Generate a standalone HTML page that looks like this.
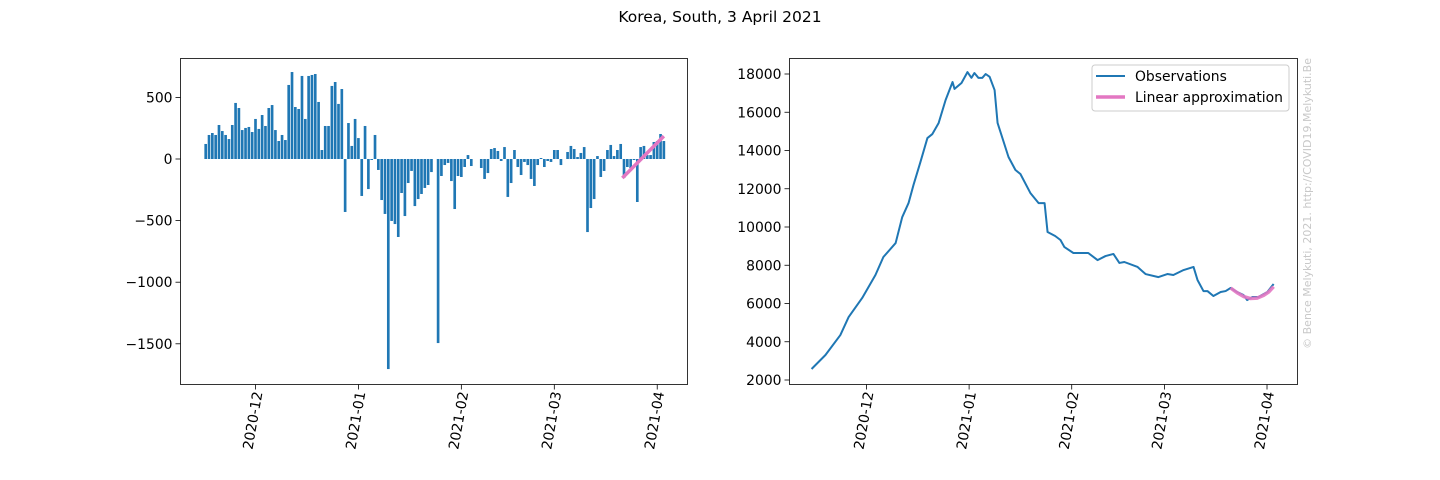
<!DOCTYPE html>
<html><head><meta charset="utf-8"><style>
html,body{margin:0;padding:0;background:#fff;}
svg{display:block;font-family:"DejaVu Sans","Liberation Sans",sans-serif;}
</style></head><body>
<svg id="fig" width="1440" height="480" viewBox="0 0 1440 480" xmlns="http://www.w3.org/2000/svg">
<text x="720" y="22" text-anchor="middle" font-size="15.5" fill="#000">Korea, South, 3 April 2021</text>
<text transform="translate(1311,58) rotate(-90)" text-anchor="end" font-size="11" fill="#c8c8c8">© Bence Melykuti, 2021. http://COVID19.Melykuti.Be</text>
<g id="left"></g>
<g id="right"></g>
</svg>
<script>
// Daily change bars, first bar at day -15 (2020-11-16), days counted from 2020-12-01
const barStartDay = -15;
const barValues = [122,195,211,195,276,227,195,162,276,455,414,235,252,260,219,325,244,357,268,414,
438,235,146,195,154,601,706,422,406,674,325,674,682,690,463,73,268,268,593,625,
447,568,-430,292,106,325,170,-300,268,-244,-8,195,-89,-333,-446,-1705,-503,-528,-633,-276,
-463,-195,-97,-382,-325,-284,-235,-211,-106,0,
-1494,-138,-49,-32,-179,-406,-138,-146,-65,32,-57,0,0,-73,-162,-114,81,89,65,-16,97,-308,-195,73,-65,-130,-24,-49,-162,-219,
-49,8,-65,-16,-24,73,73,-49,0,57,106,81,16,49,97,-593,-398,-325,24,-146,-97,73,114,24,73,122,-154,-65,-73,-8,
-349,97,106,32,32,138,146,203,146];
const fitLeftDays = [110.5,123];
const fitLeftValues = [-154,186];
// Observations (day offsets from 2020-12-01, values)
const obsDays = [-16.6,-12.4,-7.9,-5.4,-1.3,2.7,5.1,8.8,10.8,12.7,14.2,16.3,18.4,19.9,21.8,23.9,26,26.6,28.7,30.5,31.7,32.6,33.8,35,36,37.2,38.7,39.6,42.9,45,46.5,49.5,52,53.8,54.7,57,58.6,59.8,62.5,67,69.8,72.2,74.6,76.4,77.9,81.9,84.3,88.2,90.9,92.7,95.8,98.8,100,101.8,103,104.8,107,108.5,110,112,113.9,115,116.6,118.4,121.1,123];
const obsValues = [2575,3307,4350,5290,6290,7490,8430,9160,10520,11250,12200,13400,14650,14860,15440,16640,17580,17220,17530,18100,17800,18050,17800,17800,18000,17850,17160,15440,13660,12980,12770,11780,11250,11250,9740,9530,9320,8950,8640,8640,8270,8480,8590,8120,8170,7910,7540,7380,7540,7490,7750,7910,7230,6650,6650,6390,6600,6650,6810,6600,6440,6180,6340,6340,6600,7020];
const fitRightDays = [110,112,114,116,118,120,121.5,123];
const fitRightValues = [6810,6560,6360,6260,6280,6430,6600,6880];
const xTickLabels = ["2020-12","2021-01","2021-02","2021-03","2021-04"];
const xTickDays = [0,31,62,90,121];
const leftYTicks = [500,0,-500,-1000,-1500];
const rightYTicks = [2000,4000,6000,8000,10000,12000,14000,16000,18000];

const NS="http://www.w3.org/2000/svg";
function mk(parent,tag,attrs){const e=document.createElementNS(NS,tag);for(const k in attrs)e.setAttribute(k,attrs[k]);parent.appendChild(e);return e;}
function fmt(v){return v<0?"\u2212"+(-v):""+v;}

function axesFrame(g,box,xs,ys,yt,prefix){
  for(let i=0;i<xTickDays.length;i++){
    const x=xs(xTickDays[i]);
    const t=mk(g,'line',{x1:x,x2:x,y1:box.b,y2:box.b+5,stroke:'#000','stroke-width':0.8});
    
    
    const lb=mk(g,'text',{transform:`translate(${x+7},${box.b+8}) rotate(-80)`,'text-anchor':'end','font-size':14,fill:'#000'});
    lb.textContent=xTickLabels[i];
    
    
  }
  for(const v of yt){
    const y=ys(v);
    const t=mk(g,'line',{x1:box.l-5,x2:box.l,y1:y,y2:y,stroke:'#000','stroke-width':0.8});
    
    
    const lb=mk(g,'text',{x:box.l-8,y:y+5,'text-anchor':'end','font-size':13.9,fill:'#000'});
    lb.textContent=fmt(v);
    
    
  }
  const r=mk(g,'rect',{x:box.l,y:box.t,width:box.r-box.l,height:box.b-box.t,fill:'none',stroke:'#000','stroke-width':0.8});
  
  
}

// Left chart
(function(){
  const g=document.getElementById('left');
  const box={l:180.5,r:687.5,t:58.5,b:384.5};
  const pxDay=3.32, x0=255.5;
  const xs=d=>x0+d*pxDay;
  const ys=v=>159-v*0.1232;
  const w=pxDay*0.8;
  barValues.forEach((v,i)=>{
    const d=barStartDay+i;
    const y1=ys(Math.max(v,0)), y2=ys(Math.min(v,0));
    const b=mk(g,'rect',{x:xs(d)-w/2,y:y1,width:w,height:Math.max(y2-y1,0),fill:'#1f77b4'});
    
    
  });
  const fl=mk(g,'line',{x1:xs(fitLeftDays[0]),y1:ys(fitLeftValues[0]),x2:xs(fitLeftDays[1]),y2:ys(fitLeftValues[1]),stroke:'#e377c2','stroke-width':3.5});
  
  
  axesFrame(g,box,xs,ys,leftYTicks,'left');
})();

// Right chart
(function(){
  const g=document.getElementById('right');
  const box={l:789.5,r:1297.5,t:58.5,b:384.5};
  const xs=d=>866.5+d*3.31;
  const ys=v=>74+(18000-v)*0.019125;
  const obs=mk(g,'polyline',{points:obsDays.map((d,i)=>xs(d)+','+ys(obsValues[i])).join(' '),fill:'none',stroke:'#1f77b4','stroke-width':2,'stroke-linejoin':'round'});
  
  
  const fit=mk(g,'polyline',{points:fitRightDays.map((d,i)=>xs(d)+','+ys(fitRightValues[i])).join(' '),fill:'none',stroke:'#e377c2','stroke-width':3.5,'stroke-opacity':0.9});
  
  
  axesFrame(g,box,xs,ys,rightYTicks,'right');
  const lg=mk(g,'g',{});
  
  
  mk(lg,'rect',{x:1092,y:65,width:197,height:46,rx:3,fill:'#fff','fill-opacity':0.8,stroke:'#ccc','stroke-width':1});
  const e1=mk(lg,'g',{});
  
  
  mk(e1,'line',{x1:1096,x2:1125,y1:76,y2:76,stroke:'#1f77b4','stroke-width':2});
  mk(e1,'text',{x:1135,y:81,'font-size':13.9,fill:'#000'}).textContent='Observations';
  const e2=mk(lg,'g',{});
  
  
  mk(e2,'line',{x1:1096,x2:1125,y1:97,y2:97,stroke:'#e377c2','stroke-width':3.5});
  mk(e2,'text',{x:1135,y:102,'font-size':13.9,fill:'#000'}).textContent='Linear approximation';
})();
</script>
</body></html>
